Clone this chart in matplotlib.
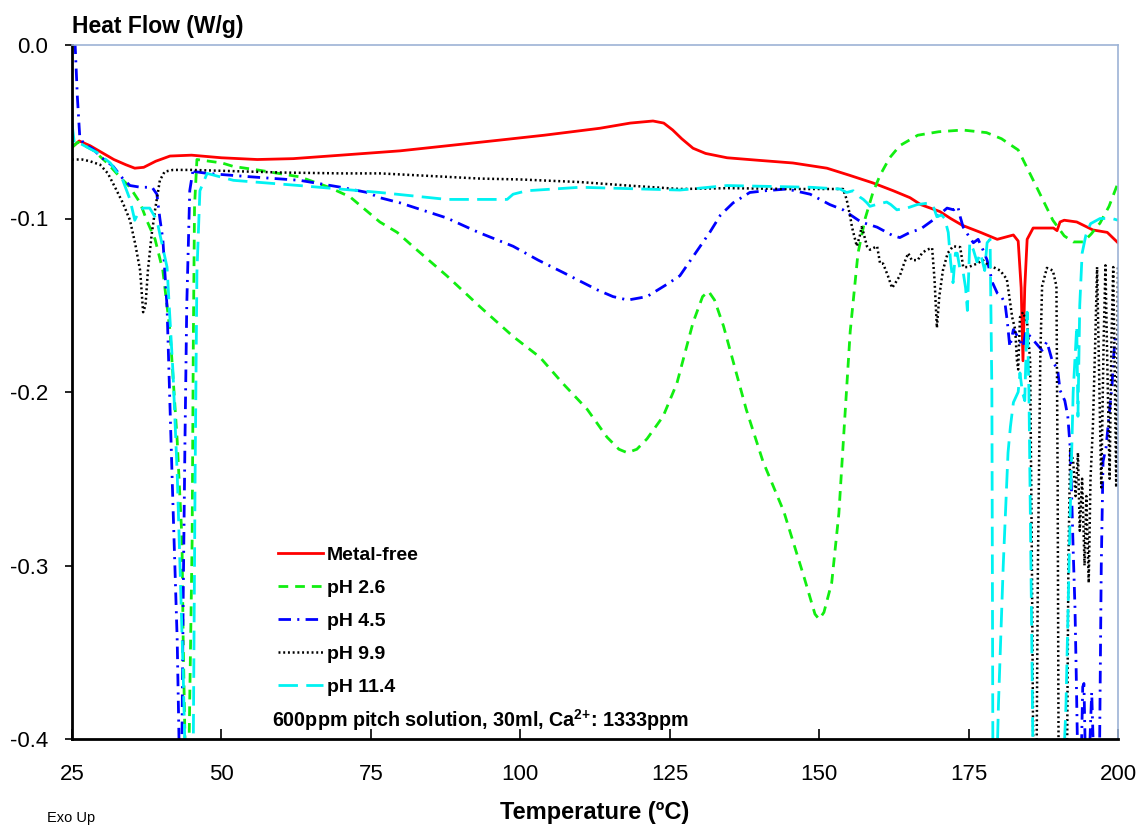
import matplotlib
matplotlib.use("Agg")
import matplotlib.pyplot as plt

plt.rcParams['font.family'] = ['Liberation Sans', 'DejaVu Sans']
plt.rcParams['mathtext.fontset'] = 'custom'
plt.rcParams['mathtext.rm'] = 'Liberation Sans'
plt.rcParams['mathtext.bf'] = 'Liberation Sans:bold'
plt.rcParams['lines.scale_dashes'] = False

# ---------------- data (temperature in degC, heat flow in W/g) ----------------
T_metal = [25, 26.2, 28, 30, 32, 34, 35.5, 37, 39, 41.4, 45, 50, 56, 62, 70, 79.9, 88, 96.6, 104,
           113.3, 118.4, 122.2, 124, 125.5, 127, 128.9, 131, 134.6, 140, 145.6, 151.3, 155, 159,
           162.4, 165.2, 167, 170.2, 172, 174, 177, 179.8, 182.5, 183.3, 183.8, 184.1, 184.4, 184.8,
           185.8, 188, 189.2, 189.8, 190.3, 191, 193.1, 195.8, 198.2, 200]
H_metal = [-0.059, -0.0553, -0.058, -0.062, -0.066, -0.069, -0.071, -0.0705, -0.067, -0.064, -0.0635,
           -0.065, -0.066, -0.0655, -0.0635, -0.061, -0.058, -0.0548, -0.052, -0.048, -0.045, -0.0438,
           -0.045, -0.049, -0.054, -0.0595, -0.0625, -0.065, -0.0665, -0.068, -0.071, -0.075, -0.0795,
           -0.084, -0.088, -0.092, -0.096, -0.100, -0.104, -0.108, -0.112, -0.1095, -0.113, -0.14,
           -0.182, -0.14, -0.112, -0.1055, -0.1055, -0.1055, -0.107, -0.102, -0.101, -0.102, -0.1066,
           -0.108, -0.114]

T_ph26 = [25, 26.0, 28.5, 30.9, 33, 34.7, 36.4, 37.5, 38.9, 40.2, 41.4, 42.6, 43.4, 43.6, 43.9, 44.25,
          44.6, 45.1, 45.3, 45.5, 45.9, 50.1, 52, 56, 63.1, 68, 71.5, 76.5, 79.4, 82, 87.7, 93.3, 98.8,
          103.3, 107.1, 111.2, 114.5, 116.5, 117.9, 119.5, 121.2, 123.9, 126.2, 128.9, 130.5, 131.5,
          132.5, 134, 137.8, 140.6, 144.1, 147.5, 149.3, 150, 150.8, 152.1, 153.3, 154.2, 155.2, 156.5,
          157.7, 159, 160.2, 161.8, 163.5, 166.5, 170, 174, 178, 180.5, 183.3, 184.1, 186.4, 189.1, 191,
          192.5, 194.2, 195.5, 197, 198.5, 200]
H_ph26 = [-0.059, -0.056, -0.0605, -0.068, -0.076, -0.082, -0.091, -0.101, -0.112, -0.130, -0.165,
          -0.228, -0.285, -0.343, -0.400, -0.450, -0.400, -0.285, -0.170, -0.093, -0.066, -0.068,
          -0.070, -0.072, -0.076, -0.082, -0.0875, -0.102, -0.108, -0.116, -0.133, -0.151, -0.168,
          -0.180, -0.195, -0.210, -0.226, -0.233, -0.235, -0.233, -0.227, -0.214, -0.195, -0.160,
          -0.145, -0.142, -0.147, -0.162, -0.210, -0.240, -0.269, -0.307, -0.328, -0.331, -0.327,
          -0.310, -0.270, -0.220, -0.165, -0.120, -0.100, -0.085, -0.075, -0.065, -0.058, -0.052,
          -0.050, -0.049, -0.0505, -0.054, -0.0605, -0.066, -0.082, -0.101, -0.110, -0.1135, -0.1135,
          -0.109, -0.1026, -0.093, -0.0795]

T_ph45 = [25.5, 25.9, 26.3, 27, 28.5, 30, 31.9, 33.5, 34.7, 36.5, 38.4, 39.2, 39.7, 40.2, 40.9, 41.4,
          41.9, 42.6, 42.9, 43.1, 43.4, 43.6, 43.9, 44.2, 44.7, 45.3, 45.6, 47.6, 55, 63.1, 70, 74.4,
          76.5, 79.9, 87.7, 93, 98.8, 103, 107.1, 112.8, 115.5, 118, 121.2, 124.5, 126.7, 128.9, 131.7,
          133.5, 135.6, 138.4, 141, 144.6, 148.5, 151.8, 154, 157, 159.7, 162.4, 163.5, 165.2, 167, 169,
          171.4, 172.5, 173.2, 173.6, 174.1, 175, 175.8, 176.6, 177.4, 178.1, 179, 179.8, 180.5, 181.1,
          181.5, 181.9, 182.5, 183.2, 184.1, 184.6, 185.3, 186.3, 187.3, 188.1, 189, 189.9, 190.3,
          191.1, 191.6, 192, 192.3, 192.5, 192.8, 193.0, 193.3, 193.8, 194.1, 194.3, 194.6, 195.1,
          195.6, 196, 196.8, 197.2, 197.5, 198, 198.6, 199, 199.2, 199.5, 200]
H_ph45 = [0.002, -0.030, -0.053, -0.057, -0.060, -0.065, -0.070, -0.077, -0.081, -0.082, -0.082,
          -0.086, -0.100, -0.112, -0.151, -0.209, -0.266, -0.343, -0.400, -0.450, -0.400, -0.320,
          -0.228, -0.150, -0.084, -0.071, -0.073, -0.074, -0.076, -0.078, -0.082, -0.085, -0.088,
          -0.091, -0.0997, -0.108, -0.116, -0.124, -0.131, -0.141, -0.145, -0.147, -0.145, -0.138,
          -0.133, -0.122, -0.108, -0.098, -0.091, -0.085, -0.084, -0.083, -0.086, -0.092, -0.095,
          -0.102, -0.105, -0.110, -0.111, -0.108, -0.106, -0.101, -0.094, -0.095, -0.093, -0.099,
          -0.105, -0.110, -0.114, -0.112, -0.118, -0.124, -0.137, -0.143, -0.145, -0.149, -0.160,
          -0.174, -0.164, -0.168, -0.174, -0.165, -0.168, -0.172, -0.176, -0.171, -0.182, -0.187,
          -0.199, -0.205, -0.214, -0.232, -0.266, -0.291, -0.324, -0.360, -0.420, -0.420, -0.370,
          -0.368, -0.420, -0.420, -0.373, -0.420, -0.450, -0.300, -0.240, -0.232, -0.210, -0.197,
          -0.182, -0.170, -0.166]

T_ph99 = [25, 26.7, 28, 29.7, 31, 32.2, 33.5, 34.7, 35.6, 36.4, 36.9, 37.3, 37.7, 38.3, 38.9, 39.7,
          40.5, 41.9, 45, 50, 60, 70, 76.5, 85, 93.3, 100, 110, 118, 126.7, 135, 145, 150, 154, 154.6,
          155.2, 155.5, 156.3, 156.8, 157.1, 157.4, 158, 158.5, 159.7, 160.2, 160.7, 161.5, 162.2,
          162.6, 163.5, 164.2, 164.9, 165.5, 166.5, 167.2, 168, 168.9, 169.3, 169.7, 170.1, 170.7,
          171.5, 172.4, 173.6, 174.1, 175, 176.4, 177.4, 178.6, 179.1, 180.3, 181.4, 181.9, 182.3,
          182.8, 183.1, 183.3, 183.6, 184.1, 184.8, 185.3, 185.6, 185.9, 186.3, 186.6, 187.0, 187.3,
          188.1, 189.1, 189.7, 189.9, 190.1, 191.4, 191.7, 192.0, 192.5, 192.9, 193.3, 193.6, 194.0,
          194.4, 194.7, 195.1, 195.4, 195.8, 196.2, 196.5, 196.9, 197.2, 197.6, 197.9, 198.3, 198.6,
          198.9, 199.2, 199.5, 199.7, 199.85, 200]
H_ph99 = [-0.066, -0.066, -0.067, -0.069, -0.074, -0.082, -0.091, -0.101, -0.115, -0.130, -0.154,
          -0.150, -0.130, -0.110, -0.095, -0.078, -0.073, -0.072, -0.072, -0.0725, -0.0735, -0.074,
          -0.074, -0.0755, -0.077, -0.0775, -0.079, -0.081, -0.083, -0.0825, -0.083, -0.083, -0.083,
          -0.089, -0.099, -0.105, -0.116, -0.110, -0.105, -0.108, -0.116, -0.118, -0.116, -0.126,
          -0.126, -0.133, -0.140, -0.138, -0.133, -0.126, -0.120, -0.124, -0.124, -0.120, -0.118,
          -0.117, -0.135, -0.163, -0.145, -0.130, -0.120, -0.116, -0.1165, -0.128, -0.128, -0.126,
          -0.124, -0.128, -0.128, -0.130, -0.135, -0.147, -0.157, -0.164, -0.182, -0.187, -0.157,
          -0.154, -0.160, -0.182, -0.300, -0.450, -0.450, -0.300, -0.180, -0.139, -0.1285, -0.130,
          -0.139, -0.250, -0.450, -0.450, -0.300, -0.232, -0.240, -0.260, -0.235, -0.280, -0.250,
          -0.300, -0.260, -0.310, -0.250, -0.220, -0.170, -0.128, -0.200, -0.255, -0.170, -0.127,
          -0.200, -0.250, -0.170, -0.128, -0.200, -0.255, -0.200, -0.128]

T_ph114 = [25, 25.4, 26.5, 29.2, 31.4, 33.5, 34.7, 35.5, 36.2, 36.9, 38, 39.2, 40.9, 41.9, 42.6, 43.1,
           43.6, 44.0, 44.7, 45.3, 45.6, 45.9, 46.4, 47.6, 52, 63, 76.5, 87.7, 97.8, 98.8, 101.1, 110,
           126.7, 134.6, 148.5, 153.5, 154.6, 155.7, 156.8, 157.4, 158.0, 158.5, 159.5, 161.3, 162,
           163, 164.7, 166.4, 168.5, 169.2, 169.7, 170.5, 171.0, 171.6, 172.0, 172.4, 172.8, 173.1,
           173.6, 174.1, 174.5, 174.8, 175.2, 175.8, 176.4, 177, 177.7, 178.1, 178.6, 178.9, 179.1,
           179.5, 180.0, 180.8, 181.6, 182, 182.5, 183.3, 183.6, 184.0, 184.4, 184.8, 185.1, 185.5,
           185.9, 190.5, 191.3, 192, 192.5, 193.1, 193.3, 193.6, 194, 194.6, 195.4, 197, 199, 200]
H_ph114 = [-0.045, -0.057, -0.057, -0.062, -0.068, -0.078, -0.089, -0.101, -0.096, -0.094, -0.094,
           -0.101, -0.128, -0.189, -0.247, -0.304, -0.362, -0.420, -0.450, -0.400, -0.247, -0.131,
           -0.084, -0.074, -0.078, -0.081, -0.085, -0.089, -0.089, -0.086, -0.084, -0.082, -0.0836,
           -0.081, -0.082, -0.083, -0.085, -0.084, -0.0876, -0.089, -0.091, -0.093, -0.092, -0.0905,
           -0.092, -0.095, -0.094, -0.092, -0.091, -0.094, -0.099, -0.098, -0.100, -0.108, -0.125,
           -0.137, -0.120, -0.120, -0.130, -0.131, -0.140, -0.153, -0.114, -0.118, -0.125, -0.120,
           -0.130, -0.114, -0.112, -0.200, -0.450, -0.450, -0.380, -0.300, -0.235, -0.220, -0.206,
           -0.200, -0.189, -0.200, -0.205, -0.154, -0.200, -0.320, -0.450, -0.450, -0.380, -0.270,
           -0.200, -0.162, -0.214, -0.150, -0.120, -0.110, -0.103, -0.100, -0.100, -0.101]

labels = ['Metal-free', 'pH 2.6', 'pH 4.5', 'pH 9.9', 'pH 11.4']
x_ticks = [25, 50, 75, 100, 125, 150, 175, 200]
y_ticks = [0.0, -0.1, -0.2, -0.3, -0.4]

# ---------------- figure ----------------
fig = plt.figure(figsize=(11.41, 8.27), dpi=100)
ax = fig.add_axes([72 / 1141, 1 - 739 / 827, (1118 - 72) / 1141, (739 - 45) / 827])

ax.plot(T_metal, H_metal, color='#FF0000', lw=2.0, label=labels[0])
ax.plot(T_ph26, H_ph26, color='#11EE11', lw=2.0, dashes=(7, 5), label=labels[1])
ax.plot(T_ph45, H_ph45, color='#0000FF', lw=2.0, dashes=(9, 4.5, 1.5, 4.5), label=labels[2])
ax.plot(T_ph99, H_ph99, color='#000000', lw=1.8, dashes=(1.4, 2.0), label=labels[3])
ax.plot(T_ph114, H_ph114, color='#00F2F2', lw=2.0, dashes=(14, 6), label=labels[4])

ax.set_xlim(25, 200)
ax.set_ylim(-0.4, 0.0)
ax.set_xticks(x_ticks)
ax.set_xticklabels([str(v) for v in x_ticks])
ax.set_yticks(y_ticks)
ax.set_yticklabels(['%.1f' % v for v in y_ticks])
ax.tick_params(axis='x', direction='in', length=7, width=1.2, pad=18, labelsize=16)
ax.tick_params(axis='y', direction='out', length=5, width=1.2, pad=12, labelsize=16)

for s in ('left', 'bottom'):
    ax.spines[s].set_color('black')
    ax.spines[s].set_linewidth(2.0)
for s in ('top', 'right'):
    ax.spines[s].set_color('#9DB3D6')
    ax.spines[s].set_linewidth(1.2)

ax.set_xlabel('Temperature (ºC)', fontsize=17, fontweight='bold', va='center')
ax.xaxis.set_label_coords(0.5, (739 - 813) / 694)
ax.set_ylabel('Heat Flow (W/g)', fontsize=16.5, fontweight='bold', rotation=0, ha='left', va='center')
ax.yaxis.set_label_coords(0.0, (739 - 26) / 694)

leg = ax.legend(loc='upper left', bbox_to_anchor=((278 - 72) / 1046, (739 - 546) / 694),
                frameon=False, handlelength=2.3, handletextpad=0.2, labelspacing=0.8,
                borderpad=0, borderaxespad=0, prop={'size': 14, 'weight': 'bold'})

ax.text((272 - 72) / 1046, (739 - 720) / 694,
        r'600ppm pitch solution, 30ml, Ca$^{\mathbf{2{+}}}$: 1333ppm',
        transform=ax.transAxes, fontsize=14.2, fontweight='bold', ha='left', va='center')

fig.text(47 / 1141, 1 - 818 / 827, 'Exo Up', fontsize=10.5, ha='left', va='center')

fig.savefig('out.png', dpi=100)
